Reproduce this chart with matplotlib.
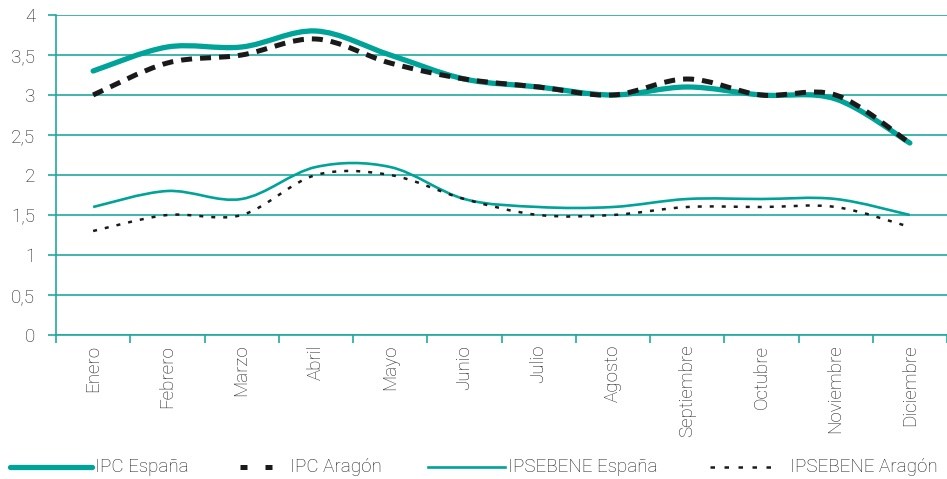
import numpy as np
import matplotlib.pyplot as plt
from matplotlib.path import Path
from matplotlib.patches import PathPatch
from matplotlib.lines import Line2D

# months and series values
meses = ['Enero', 'Febrero', 'Marzo', 'Abril', 'Mayo', 'Junio', 'Julio',
         'Agosto', 'Septiembre', 'Octubre', 'Noviembre', 'Diciembre']
ipc_espana = [3.3, 3.6, 3.6, 3.8, 3.5, 3.2, 3.1, 3.0, 3.1, 3.0, 2.95, 2.4]
ipc_aragon = [3.0, 3.4, 3.5, 3.7, 3.4, 3.2, 3.1, 3.0, 3.2, 3.0, 3.0, 2.4]
ipsebene_espana = [1.6, 1.8, 1.7, 2.1, 2.1, 1.7, 1.6, 1.6, 1.7, 1.7, 1.7, 1.5]
ipsebene_aragon = [1.3, 1.5, 1.5, 2.0, 2.0, 1.7, 1.5, 1.5, 1.6, 1.6, 1.6, 1.35]
y_ticks = [0, 0.5, 1, 1.5, 2, 2.5, 3, 3.5, 4]
y_labels = ['0', '0,5', '1', '1,5', '2', '2,5', '3', '3,5', '4']
labels = ['IPC España', 'IPC Aragón', 'IPSEBENE España', 'IPSEBENE Aragón']

teal = '#00a398'
grid_teal = '#1faa9f'
txt = '#1e1e1e'

plt.rcParams['font.family'] = ['Roboto', 'DejaVu Sans']
plt.rcParams['font.weight'] = 'light'


def smooth_path(x, y):
    # bezier segments like a spreadsheet "smoothed line"
    pts = np.column_stack([x, y]).astype(float)
    n = len(pts)
    verts = [pts[0]]
    codes = [Path.MOVETO]
    for i in range(n - 1):
        p0 = pts[i - 1] if i > 0 else pts[i]
        p1 = pts[i]
        p2 = pts[i + 1]
        p3 = pts[i + 2] if i + 2 < n else pts[i + 1]
        c1 = p1 + (p2 - p0) / 6
        c2 = p2 - (p3 - p1) / 6
        verts += [c1, c2, p2]
        codes += [Path.CURVE4] * 3
    return Path(verts, codes)


fig = plt.figure(figsize=(9.47, 4.79), dpi=100)
ax = fig.add_axes([56 / 947, 144 / 479, 891 / 947, 320 / 479])

x = np.arange(len(meses))
styles = [
    dict(color=teal, lw=3.8, ls='-', capstyle='round'),
    dict(color='#1a1a1a', lw=3.6, ls=(0, (2.2, 1.6))),
    dict(color=teal, lw=1.9, ls='-'),
    dict(color='#1a1a1a', lw=1.8, ls=(0, (1.6, 3.2))),
]
for vals, st in zip([ipc_espana, ipc_aragon, ipsebene_espana, ipsebene_aragon], styles):
    p = PathPatch(smooth_path(x, vals), fill=False, edgecolor=st['color'],
                  lw=st['lw'], ls=st['ls'], capstyle=st.get('capstyle', 'butt'),
                  zorder=3)
    ax.add_patch(p)

ax.set_xlim(-0.5, 11.5)
ax.set_ylim(0, 4)
ax.set_yticks(y_ticks)
ax.set_yticklabels(y_labels)
ax.set_xticks(x)
ax.set_xticklabels(meses, rotation=90, va='top', ha='center')
ax.set_xticks(np.arange(-0.5, 12, 1), minor=True)
ax.tick_params(axis='x', which='major', length=0, pad=7, labelsize=13.5, labelcolor=txt)
ax.tick_params(axis='x', which='minor', length=6, width=1.2, color=grid_teal)
ax.tick_params(axis='y', length=6, width=1.2, color=grid_teal, labelsize=13.5, labelcolor=txt, pad=9)
ax.grid(axis='y', color=grid_teal, lw=1.2, zorder=0)
for s in ['top', 'right']:
    ax.spines[s].set_visible(False)
for s in ['left', 'bottom']:
    ax.spines[s].set_color(grid_teal)
    ax.spines[s].set_linewidth(1.2)

# legend drawn by hand along the bottom (pixel positions of the reference)
leg_y = 12 / 479
leg_handles = [
    (10, 92, dict(color=teal, lw=3.8, solid_capstyle='round')),
    (240, 285, dict(color='#1a1a1a', lw=3.6, ls=(0, (1.4, 3.6)))),
    (428, 505, dict(color=teal, lw=1.9)),
    (710, 776, dict(color='#1a1a1a', lw=1.8, ls=(0, (1.8, 3.8)))),
]
text_x = [95, 290, 508, 790]
for (x0, x1, st), tx, lab in zip(leg_handles, text_x, labels):
    fig.add_artist(Line2D([x0 / 947, x1 / 947], [leg_y, leg_y], transform=fig.transFigure, **st))
    fig.text(tx / 947, leg_y, lab, ha='left', va='center', fontsize=13.5, color=txt)

fig.savefig('out.png', dpi=100)
